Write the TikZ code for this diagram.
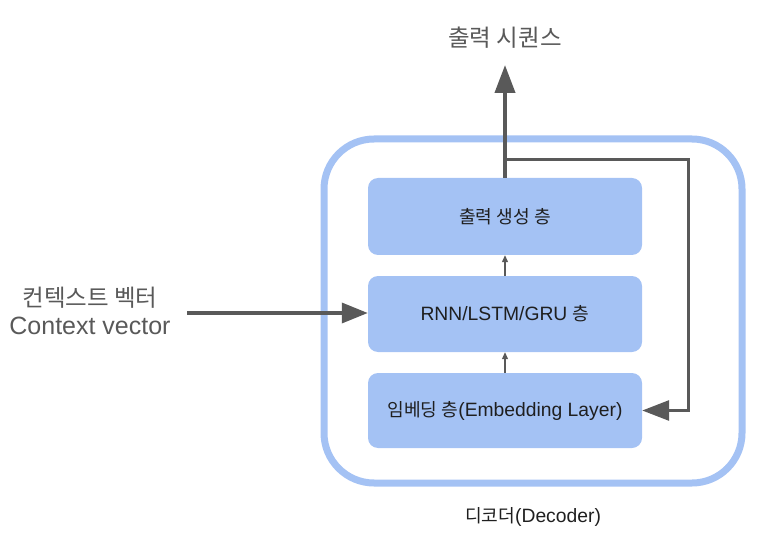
\documentclass[tikz,border=0pt]{standalone}
\usepackage{fontspec}
\setmainfont{Liberation Sans}
\newfontfamily\kr{Noto Sans CJK KR}[Scale=0.94]
\usetikzlibrary{arrows.meta}
\definecolor{boxblue}{HTML}{A4C2F4}
\definecolor{arrowgray}{HTML}{595959}
\definecolor{textgray}{HTML}{595959}
\begin{document}
\begin{tikzpicture}[x=1pt,y=-1pt,
  layerbox/.style={draw=none,fill=boxblue,rounded corners=10pt,minimum width=274pt,inner sep=0pt,font=\fontsize{19.3}{22}\selectfont,text=black!88},
  bigarrow/.style={draw=arrowgray,line width=4pt,-{Triangle[length=28pt,width=20pt]}},
  fbarrow/.style={draw=arrowgray,line width=3pt,-{Triangle[length=27pt,width=20pt]}},
  smallarrow/.style={draw=arrowgray,line width=1.2pt,-{Triangle[length=7pt,width=6pt]}},
  biglabel/.style={font=\fontsize{25}{29}\selectfont,text=textgray,align=center}]
\useasboundingbox (0,0) rectangle (767,534);
% outer decoder frame
\node[draw=boxblue,line width=7pt,rounded corners=50pt,minimum width=418pt,minimum height=344pt,inner sep=0pt] (decoder) at (533,311) {};
% layers
\node[layerbox,minimum height=77pt] (out1) at (505,216.5) {{\kr 출력 생성 층}};
\node[layerbox,minimum height=76pt] (rnn) at (505,314) {RNN/LSTM/GRU {\kr 층}};
\node[layerbox,minimum height=75pt] (emb) at (505,410.5) {{\kr 임베딩 층}(Embedding Layer)};
% labels
\node[biglabel] (title) at (505,38) {{\kr 출력 시퀀스}};
\node[biglabel,inner sep=0pt] (ctx) at (90,311) {{\kr 컨텍스트 벡터}\\[-1pt]Context vector};
\node[font=\fontsize{19.3}{22}\selectfont,text=black!88] (declabel) at (533,517) {{\kr 디코더}(Decoder)};
% coordinates
\coordinate (tip) at (505,65);
\coordinate (split) at (505,160);
\coordinate (ctxstart) at (187,313);
\coordinate (corner) at (688,160);
% connectors
\draw[smallarrow] (emb.north) -- (rnn.south);
\draw[smallarrow] (rnn.north) -- (out1.south);
\draw[bigarrow] (out1.north) -- (tip);
\draw[fbarrow] (split) -- (corner) |- (emb.east);
\draw[bigarrow,line width=3.5pt,-{Triangle[length=26pt,width=20pt]}] (ctxstart) -- (ctxstart -| rnn.west);
\end{tikzpicture}
\end{document}
